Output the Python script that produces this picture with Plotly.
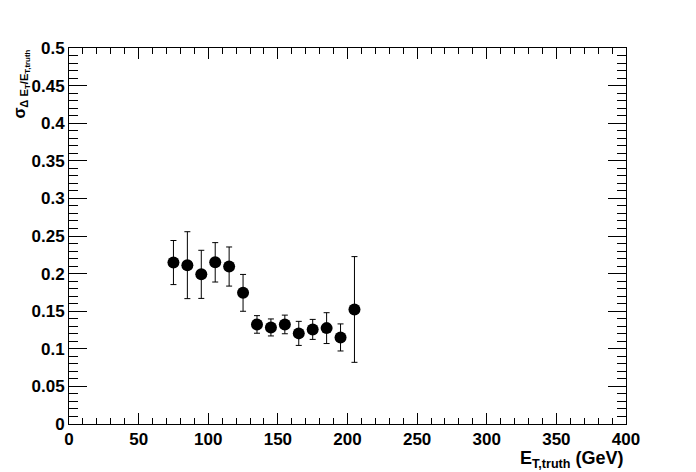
import plotly.graph_objects as go

et_truth = [75, 85, 95, 105, 115, 125, 135, 145, 155, 165, 175, 185, 195, 205]
sigma = [0.2147, 0.2112, 0.1990, 0.2150, 0.2094, 0.1744, 0.1324, 0.1284,
         0.1324, 0.1205, 0.1258, 0.1275, 0.1151, 0.1523]
sigma_err = [0.0293, 0.0445, 0.0320, 0.0262, 0.0260, 0.0245, 0.0117, 0.0113,
             0.0124, 0.0160, 0.0133, 0.0205, 0.0180, 0.0703]

tick_font = dict(family='Liberation Sans, Arial, sans-serif', size=17,
                 color='black', weight='bold')

fig = go.Figure()

fig.add_trace(go.Scatter(x=et_truth, y=sigma, mode='markers',
                         marker=dict(color='black', size=12, symbol='circle'),
                         error_y=dict(type='data', array=sigma_err, visible=True,
                                      color='black', thickness=1, width=3),
                         showlegend=False))

fig.update_xaxes(range=[0, 400], dtick=50, tick0=0,
                 ticks='inside', ticklen=11, tickwidth=1, tickcolor='black',
                 minor=dict(dtick=10, ticks='inside', ticklen=6, tickwidth=1,
                            tickcolor='black'),
                 showline=True, linecolor='black', linewidth=1, mirror='allticks',
                 showgrid=False, zeroline=False, tickfont=tick_font)

fig.update_yaxes(range=[0, 0.5], dtick=0.05, tick0=0,
                 ticks='inside', ticklen=18, tickwidth=1, tickcolor='black',
                 minor=dict(dtick=0.01, ticks='inside', ticklen=9, tickwidth=1,
                            tickcolor='black'),
                 showline=True, linecolor='black', linewidth=1, mirror='allticks',
                 showgrid=False, zeroline=False, tickfont=tick_font)

# axis titles, placed like ROOT does (right / top aligned)
fig.add_annotation(text='E<sub>T,truth</sub> (GeV)', xref='paper', yref='paper',
                   x=1.0, y=-0.094, xanchor='right', yanchor='middle', showarrow=False,
                   font=dict(family='Liberation Sans, Arial, sans-serif', size=18,
                             color='black', weight='bold'))

fig.add_annotation(text='σ<sub>Δ E<sub>T</sub>/E<sub>T,truth</sub></sub>',
                   xref='paper', yref='paper', x=-0.086, y=1.0,
                   xanchor='center', yanchor='top', textangle=-90, showarrow=False,
                   font=dict(family='Liberation Sans, Arial, sans-serif', size=16,
                             color='black', weight='bold'))

# page body has an 8px margin, so shift the plot area up/left by that
fig.update_layout(width=696, height=472,
                  margin={"l": 61, "r": 78, "t": 40, "b": 56},
                  template='plotly_white',
                  plot_bgcolor='white',
                  paper_bgcolor='white')

fig.write_html("out.html")
